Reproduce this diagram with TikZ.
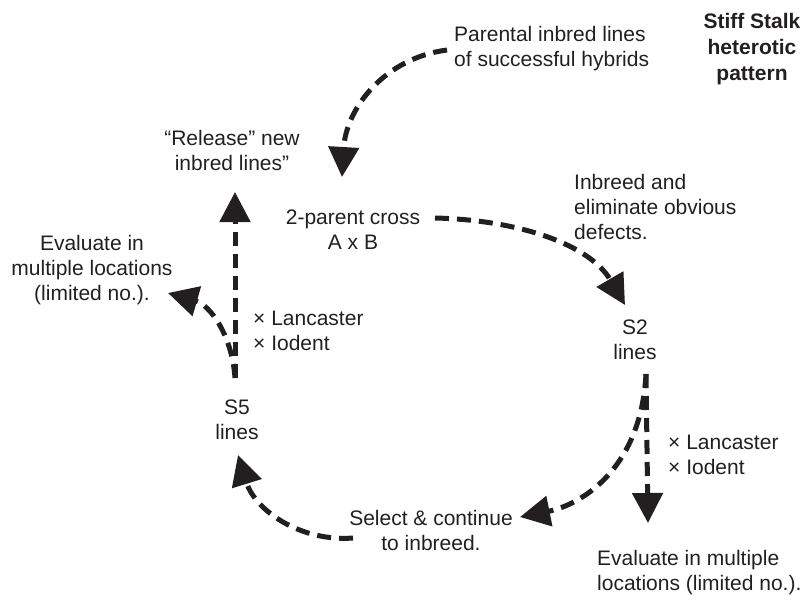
\documentclass[tikz,border=0pt]{standalone}
\usepackage{fontspec}
\setmainfont{Liberation Sans}
\usetikzlibrary{arrows.meta}
\definecolor{ink}{RGB}{35,31,32}
\begin{document}
\begin{tikzpicture}[x=1pt,y=-1pt,
  lbl/.style={inner sep=0pt, align=center, text=ink, font=\fontsize{21}{25}\selectfont},
  lbll/.style={lbl, align=left, anchor=west},
  flow/.style={draw=ink, line width=5pt, dash pattern=on 14pt off 8pt,
    -{Triangle[width=30pt,length=30pt]}}
]
\useasboundingbox (0,0) rectangle (804,595);

% labels
\node[lbl, font=\fontsize{21}{26}\selectfont\bfseries] (title) at (752,49) {Stiff Stalk\\heterotic\\pattern};
\node[lbll] (parental) at (454,49) {Parental inbred lines\\of successful hybrids};
\node[lbl] (release) at (232,150) {“Release” new\\inbred lines”};
\node[lbl] (cross) at (353,230) {2-parent cross\\A x B};
\node[lbll] (inbreed) at (574,207) {Inbreed and\\eliminate obvious\\defects.};
\node[lbl] (s2) at (635,340) {S2\\lines};
\node[lbl] (evalL) at (92,270) {Evaluate in\\multiple locations\\(limited no.).};
\node[lbll] (lancL) at (253,331) {× Lancaster\\× Iodent};
\node[lbl] (s5) at (237,420) {S5\\lines};
\node[lbll] (lancR) at (668,455) {× Lancaster\\× Iodent};
\node[lbl] (select) at (431,530) {Select \& continue\\to inbreed.};
\node[lbll] (evalR) at (597,573) {Evaluate in multiple\\locations (limited no.).};

% connector end points
\coordinate (pStart) at (447,50);
\coordinate (crossTip) at (342,177);
\coordinate (cStart) at (435,218);
\coordinate (s2Tip) at (625,305);
\coordinate (s2Out) at (646,374);
\coordinate (evalRTip) at (648,523);
\coordinate (selTip) at (520,517);
\coordinate (selOut) at (353,538);
\coordinate (s5Tip) at (238,455);
\coordinate (s5Out) at (235,378);
\coordinate (relTip) at (235,192);
\coordinate (evalLTip) at (168,293);

% connectors
\draw[flow] (pStart) .. controls (385,58) and (346,108) .. (crossTip);
\draw[flow] (cStart) .. controls (520,220) and (590,245) .. (s2Tip);
\draw[flow] (s2Out) -- (evalRTip);
\draw[flow] (s2Out) .. controls (641,470) and (580,505) .. (selTip);
\draw[flow] (selOut) .. controls (300,542) and (255,510) .. (s5Tip);
\draw[flow] (s5Out) -- (relTip);
\draw[flow] (s5Out) .. controls (232,335) and (210,305) .. (evalLTip);
\end{tikzpicture}
\end{document}
